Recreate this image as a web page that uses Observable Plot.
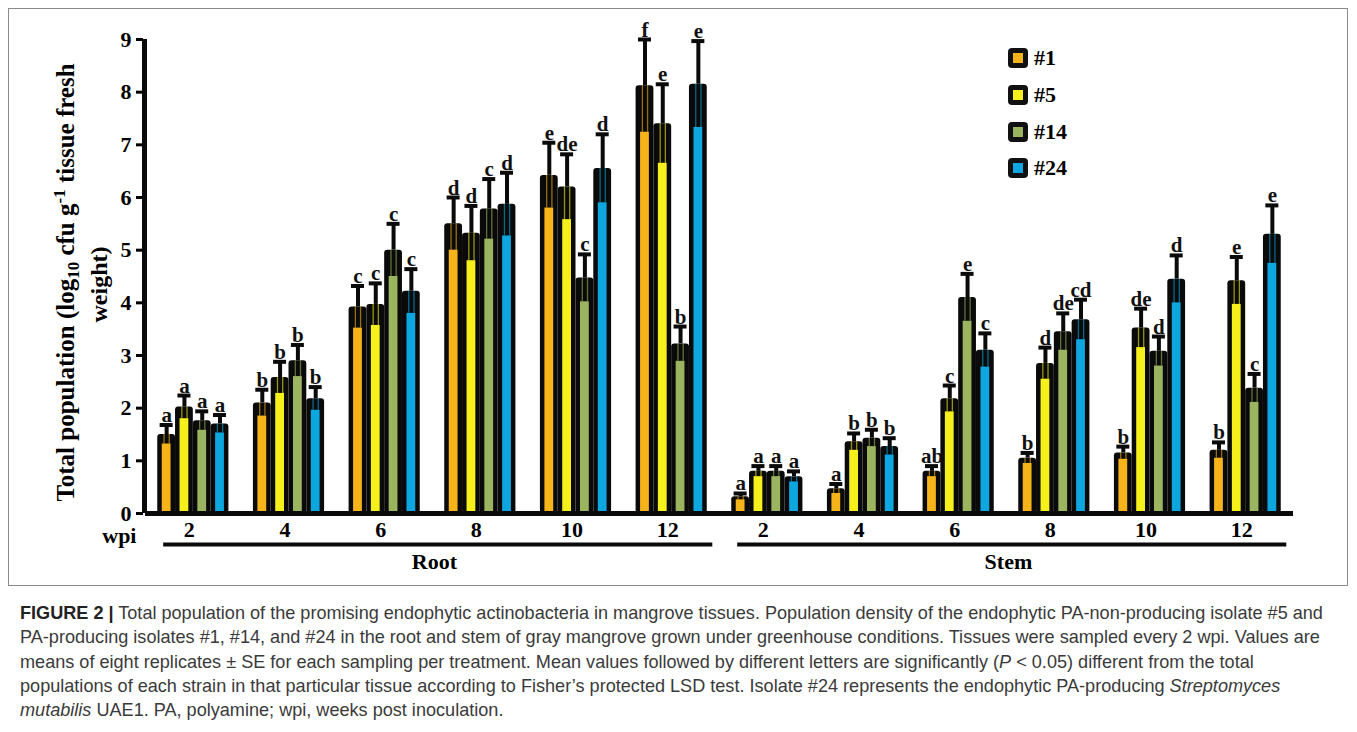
<!DOCTYPE html>
<html>
<head>
<meta charset="utf-8">
<script src="https://cdn.jsdelivr.net/npm/d3@7"></script>
<script src="https://cdn.jsdelivr.net/npm/@observablehq/plot@0.6"></script>
<style>
  body { margin: 0; background: #fff; }
  #wrap { position: relative; width: 1357px; height: 732px; overflow: hidden; }
  #frame { position: absolute; left: 8px; top: 8px; width: 1340px; height: 578px; border: 1px solid #8a8a8a; box-sizing: border-box; }
  #chart { position: absolute; left: 0; top: 0; }
  #legend { position: absolute; left: 1008px; top: 40px; font-family: 'Liberation Serif', 'Times New Roman', serif; font-weight: bold; font-size: 22px; }
  .li { display: flex; align-items: center; height: 36.7px; }
  .sw { width: 20px; height: 20px; background: #111; border-radius: 4px; display: flex; align-items: center; justify-content: center; margin-right: 6px; }
  .sw span { width: 10px; height: 10px; display: block; }
  #caption { position: absolute; left: 20px; top: 601px; font-family: 'Liberation Sans', Arial, sans-serif; font-size: 18.1px; line-height: 24.3px; color: #3a3a3a; white-space: nowrap; }
  #caption b { color: #222; }
</style>
</head>
<body>
<div id="wrap">
  <div id="frame"></div>
  <div id="chart"></div>
  <div id="legend"></div>
  <div id="caption">
    <b>FIGURE 2 |</b> Total population of the promising endophytic actinobacteria in mangrove tissues. Population density of the endophytic PA-non-producing isolate #5 and<br>
    PA-producing isolates #1, #14, and #24 in the root and stem of gray mangrove grown under greenhouse conditions. Tissues were sampled every 2 wpi. Values are<br>
    means of eight replicates ± SE for each sampling per treatment. Mean values followed by different letters are significantly (<i>P</i> &lt; 0.05) different from the total<br>
    populations of each strain in that particular tissue according to Fisher’s protected LSD test. Isolate #24 represents the endophytic PA-producing <i>Streptomyces</i><br>
    <i>mutabilis</i> UAE1. PA, polyamine; wpi, weeks post inoculation.
  </div>
</div>
<script>
// ---- data ----
const strains = ["#1", "#5", "#14", "#24"];
const strainColors = ["#f6b41a", "#f5f01c", "#9bb45f", "#0ea6df"];
const groupTissue = ["Root","Root","Root","Root","Root","Root","Stem","Stem","Stem","Stem","Stem","Stem"];
const wpiLabels = ["2","4","6","8","10","12","2","4","6","8","10","12"];
const tissues = ["Root", "Stem"];
const yTicks = [0,1,2,3,4,5,6,7,8,9];

const mean_1  = [1.50, 2.10, 3.92, 5.50, 6.42, 8.12, 0.32, 0.47, 0.80, 1.05, 1.15, 1.20];
const se_1    = [0.18, 0.25, 0.40, 0.50, 0.62, 0.88, 0.06, 0.09, 0.10, 0.10, 0.12, 0.15];
const mean_5  = [2.02, 2.58, 3.97, 5.32, 6.20, 7.40, 0.80, 1.36, 2.18, 2.85, 3.52, 4.42];
const se_5    = [0.22, 0.30, 0.40, 0.52, 0.62, 0.75, 0.10, 0.16, 0.25, 0.30, 0.37, 0.45];
const mean_14 = [1.76, 2.90, 5.00, 5.78, 4.47, 3.22, 0.80, 1.43, 4.10, 3.45, 3.08, 2.38];
const se_14   = [0.18, 0.30, 0.50, 0.57, 0.45, 0.33, 0.10, 0.16, 0.45, 0.35, 0.28, 0.27];
const mean_24 = [1.70, 2.18, 4.22, 5.87, 6.55, 8.15, 0.70, 1.27, 3.10, 3.68, 4.45, 5.30];
const se_24   = [0.17, 0.22, 0.42, 0.60, 0.65, 0.82, 0.10, 0.16, 0.32, 0.38, 0.45, 0.55];

const letters_1  = ["a","b","c","d","e","f","a","a","ab","b","b","b"];
const letters_5  = ["a","b","c","d","de","e","a","b","c","d","de","e"];
const letters_14 = ["a","b","c","c","c","b","a","b","e","de","d","c"];
const letters_24 = ["a","b","c","d","d","e","a","b","c","cd","d","e"];

const titleLine1 = "Total population (log10 cfu g-1 tissue fresh";
const titleLine2 = "weight)";

// ---- build table ----
const means = [mean_1, mean_5, mean_14, mean_24];
const ses = [se_1, se_5, se_14, se_24];
const letters = [letters_1, letters_5, letters_14, letters_24];
const bw = 0.186; // bar width in group units
const rows = strains.flatMap((s, si) => means[si].map((m, gi) => ({
  strain: s, si, gi, mean: m, se: ses[si][gi], letter: letters[si][gi],
  cx: gi + (si - 1.5) * bw
})));
const spans = tissues.map(t => {
  const idx = groupTissue.map((g, i) => g === t ? i : -1).filter(i => i >= 0);
  return {tissue: t, first: d3.min(idx), last: d3.max(idx)};
});
const xDomain = [-0.5, groupTissue.length - 0.5];
const yDomain = [0, 9];

const serif = "'Liberation Serif', 'Times New Roman', serif";

const chart = Plot.plot({
  width: 1357,
  height: 590,
  marginLeft: 145,
  marginRight: 64,
  marginTop: 39,
  marginBottom: 77,
  style: {fontFamily: serif, fontWeight: "bold", background: "transparent", color: "black", overflow: "visible"},
  x: {domain: xDomain, axis: null},
  y: {domain: yDomain, axis: null},
  color: {domain: strains, range: strainColors},
  marks: [
    // bars (black outline body)
    Plot.rectY(rows, {x1: d => d.cx - bw / 2, x2: d => d.cx + bw / 2, y1: 0, y2: "mean", fill: "#0a0a0a", rx: 3}),
    // coloured fill up to mean - SE
    Plot.rectY(rows, {x1: d => d.cx - bw / 2, x2: d => d.cx + bw / 2, y1: 0, y2: d => d.mean - d.se, fill: "strain", insetLeft: 4.5, insetRight: 4.5}),
    // light stripes inside lower error band
    Plot.ruleX(rows, {x: "cx", y1: d => d.mean - d.se, y2: "mean", stroke: "strain", strokeWidth: 1.3, strokeOpacity: 0.6, dx: -2.6}),
    Plot.ruleX(rows, {x: "cx", y1: d => d.mean - d.se, y2: "mean", stroke: "strain", strokeWidth: 1.3, strokeOpacity: 0.6, dx: 2.6}),
    // upper error bar
    Plot.ruleX(rows, {x: "cx", y1: "mean", y2: d => d.mean + d.se, stroke: "#0a0a0a", strokeWidth: 4}),
    Plot.ruleY(rows, {y: d => d.mean + d.se, x1: d => d.cx - 0.068, x2: d => d.cx + 0.068, stroke: "#0a0a0a", strokeWidth: 4}),
    // significance letters
    Plot.text(rows, {x: "cx", y: d => d.mean + d.se, text: "letter", lineAnchor: "bottom", dy: -3, fontSize: 21, fontWeight: "bold", fill: "#111"}),
    // axes lines
    Plot.ruleY([yDomain[0]], {strokeWidth: 5, stroke: "#0a0a0a"}),
    Plot.ruleX([xDomain[0]], {y1: yDomain[0], y2: yDomain[1], strokeWidth: 5, stroke: "#0a0a0a", dx: -1}),
    Plot.axisY({ticks: yTicks, tickFormat: d => d, tickSize: 7, tickPadding: 5, fontSize: 22, strokeWidth: 3, label: null, dx: -2}),
    Plot.axisX({ticks: d3.range(wpiLabels.length), tickFormat: i => wpiLabels[i], tickSize: 0, tickPadding: 8, fontSize: 22, label: null, dx: -4}),
    // wpi label
    Plot.text(["wpi"], {frameAnchor: "bottom-left", dx: -9, dy: 29, textAnchor: "end", fontSize: 22}),
    // tissue underlines and names
    Plot.ruleY(spans, {y: 0, x1: d => d.first - 0.31, x2: d => d.last + 0.43, dy: 31, strokeWidth: 4, stroke: "#0a0a0a"}),
    Plot.text(spans, {x: d => (d.first + d.last) / 2 + 0.02, y: 0, text: "tissue", dy: 48, fontSize: 22}),
    // y title
    Plot.text([titleLine1], {frameAnchor: "left", textAnchor: "middle", rotate: -90, dx: -80, dy: 6, fontSize: 25}),
    Plot.text([titleLine2], {frameAnchor: "left", textAnchor: "middle", rotate: -90, dx: -46, dy: 8, fontSize: 24})
  ]
});
document.getElementById("chart").appendChild(chart);

// sub/superscripts in the y title
d3.select(chart).selectAll("text").filter(function () { return this.textContent === titleLine1; })
  .each(function () {
    const t = d3.select(this);
    t.attr("text-anchor", "middle");
    t.text(null);
    t.append("tspan").text("Total population (log");
    t.append("tspan").attr("dy", 5).attr("font-size", 17).text("10");
    t.append("tspan").attr("dy", -5).text(" cfu g");
    t.append("tspan").attr("dy", -9).attr("font-size", 17).text("-1");
    t.append("tspan").attr("dy", 9).text(" tissue fresh");
  });

// legend
const legend = d3.select("#legend");
strains.forEach((s, i) => {
  const li = legend.append("div").attr("class", "li");
  li.append("div").attr("class", "sw").append("span").style("background", strainColors[i]);
  li.append("div").text(s);
});
</script>
</body>
</html>
